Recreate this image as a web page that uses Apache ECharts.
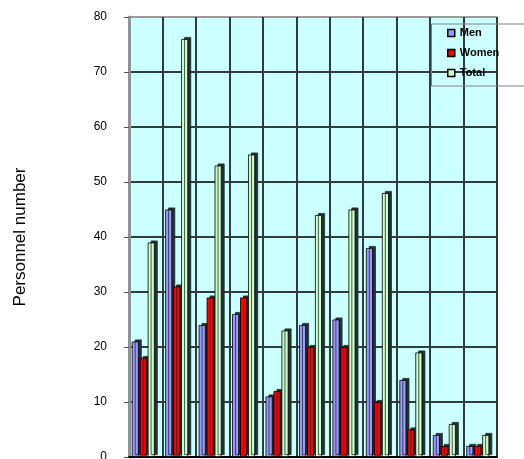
<!DOCTYPE html>
<html>
<head>
<meta charset="utf-8">
<script src="https://cdn.jsdelivr.net/npm/echarts@6/dist/echarts.min.js"></script>
<style>
  html, body { margin: 0; padding: 0; background: #ffffff; overflow: hidden; }
  #chart { width: 524px; height: 459px; }
</style>
</head>
<body>
<div id="chart"></div>
<script>
// Staff head counts per group
const categories = ['1', '2', '3', '4', '5', '6', '7', '8', '9', '10', '11'];
const men   = [21, 45, 24, 26, 11, 24, 25, 38, 14, 4, 2];
const women = [18, 31, 29, 29, 12, 20, 20, 10, 5, 2, 2];
const total = [39, 76, 53, 55, 23, 44, 45, 48, 19, 6, 4];
const yTicks = [0, 10, 20, 30, 40, 50, 60, 70, 80];

const FONT = '"Liberation Sans", Arial, sans-serif';

// Bar style with a dark offset face to give the columns some depth
function barStyle(fill) {
  return {
    color: fill,
    borderColor: '#000000',
    borderWidth: 0.8,
    shadowColor: '#223030',
    shadowBlur: 0,
    shadowOffsetX: 3,
    shadowOffsetY: -2
  };
}

const chart = echarts.init(document.getElementById('chart'), null, { renderer: 'canvas' });

chart.setOption({
  animation: false,
  backgroundColor: '#ffffff',
  grid: {
    left: 129, right: 27, top: 17, bottom: 2,
    containLabel: false,
    outerBoundsMode: 'none',
    show: true,
    backgroundColor: '#CCFFFF',
    borderWidth: 0
  },
  xAxis: {
    type: 'category',
    data: categories,
    boundaryGap: true,
    axisLine: { show: true, lineStyle: { color: '#000000', width: 2 } },
    axisTick: { show: false },
    axisLabel: { show: false },
    splitLine: {
      show: true,
      interval: 0,
      lineStyle: { color: '#2e3c3c', width: 2 }
    }
  },
  yAxis: {
    type: 'value',
    min: yTicks[0],
    max: yTicks[yTicks.length - 1],
    interval: yTicks[1] - yTicks[0],
    name: 'Personnel number',
    nameLocation: 'middle',
    nameGap: 100,
    nameRotate: 90,
    nameTextStyle: { fontFamily: FONT, fontSize: 17, color: '#000000' },
    axisLine: { show: true, lineStyle: { color: '#8c9494', width: 3 } },
    axisTick: { show: true, length: 5, lineStyle: { color: '#555555', width: 1 } },
    axisLabel: {
      margin: 22,
      fontFamily: FONT,
      fontSize: 12,
      color: '#000000'
    },
    splitLine: {
      show: true,
      lineStyle: {
        color: ['#2e3c3c', '#2e3c3c', '#2e3c3c', '#2e3c3c', '#2e3c3c',
                '#2e3c3c', '#2e3c3c', '#2e3c3c', '#999999'],
        width: 2
      }
    }
  },
  legend: {
    data: ['Men', 'Women', 'Total'],
    orient: 'vertical',
    left: 442,
    top: 21,
    itemWidth: 7,
    itemHeight: 7,
    itemGap: 6,
    icon: 'rect',
    itemStyle: {
      borderColor: '#000000',
      borderWidth: 1.5,
      shadowBlur: 0,
      shadowOffsetX: 0,
      shadowOffsetY: 0,
      shadowColor: 'rgba(0,0,0,0)'
    },
    textStyle: {
      fontFamily: FONT,
      fontSize: 11,
      fontWeight: 'bold',
      color: '#000000',
      lineHeight: 14
    }
  },
  graphic: [
    {
      type: 'rect',
      left: 429, top: 21.5,
      shape: { width: 130, height: 62 },
      style: { fill: 'none', stroke: '#808080', lineWidth: 1 },
      silent: true,
      z: 10
    }
  ],
  series: [
    {
      name: 'Men', type: 'bar', data: men,
      barWidth: 7, barGap: '14%',
      itemStyle: barStyle('#9999FF')
    },
    {
      name: 'Women', type: 'bar', data: women,
      barWidth: 7, barGap: '14%',
      itemStyle: barStyle('#FF0000')
    },
    {
      name: 'Total', type: 'bar', data: total,
      barWidth: 7, barGap: '14%',
      itemStyle: barStyle('#CCFFCC')
    },
    {
      // empty slot that leaves room for the depth faces on the right
      name: 'depth', type: 'bar', data: categories.map(() => null),
      barWidth: 4, barGap: '14%'
    }
  ]
});
</script>
</body>
</html>
